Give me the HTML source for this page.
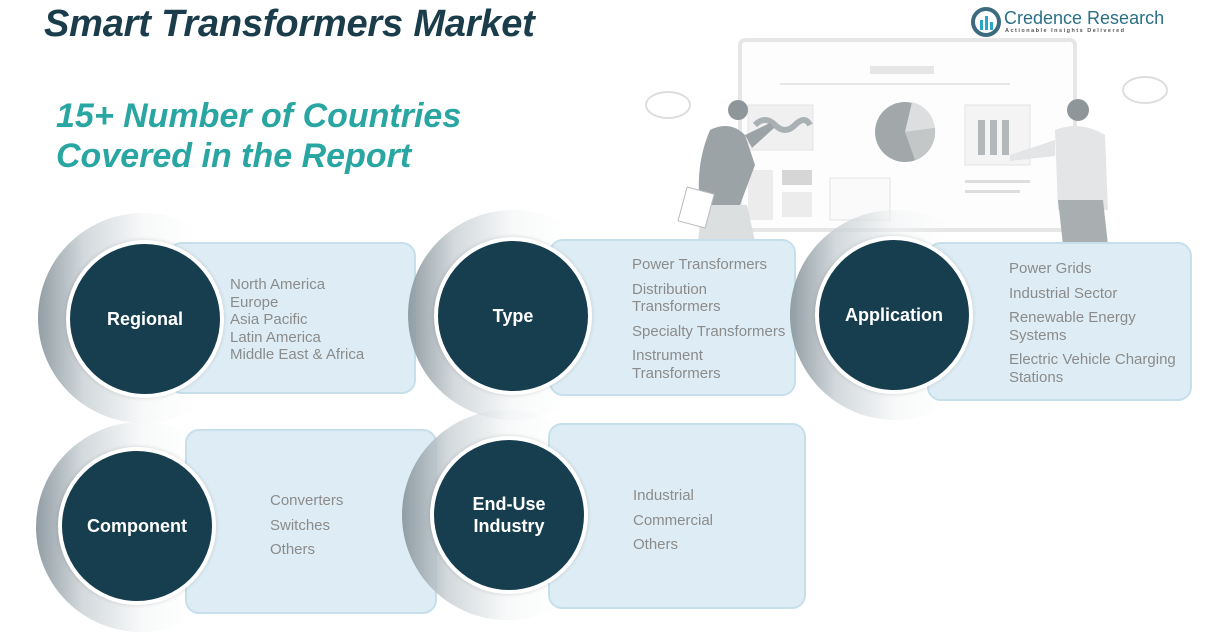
<!DOCTYPE html>
<html><head><meta charset="utf-8"><style>
body{margin:0;width:1211px;height:642px;background:#fff;position:relative;overflow:hidden;font-family:"Liberation Sans",sans-serif}
.a{position:absolute}
.ring{position:absolute;border-radius:50%;background:linear-gradient(90deg,rgba(140,153,160,.95) 0%,rgba(200,207,211,.8) 22%,rgba(240,243,244,.5) 50%,rgba(255,255,255,0) 75%)}
.panel{position:absolute;background:#deedf5;border:2px solid #c6dfeb;border-radius:14px;box-sizing:border-box}
.c{position:absolute;width:150px;height:150px;border-radius:50%;background:#173e4e;border:4px solid #fff;box-sizing:content-box;display:flex;align-items:center;justify-content:center;color:#fff;font-weight:bold;font-size:18px;text-align:center;line-height:22px;box-shadow:0 0 4px rgba(0,0,0,.15)}
.t{position:absolute;color:#8b8b8b;font-size:15px;line-height:17.5px}
</style></head><body>
<div class="a" style="left:44px;top:3px;font-size:38px;font-weight:bold;font-style:italic;color:#1b3d4b;letter-spacing:-0.2px">Smart Transformers Market</div>
<div class="a" style="left:56px;top:96px;font-size:34px;font-weight:bold;font-style:italic;color:#2aa6a2;line-height:40px">15+ Number of Countries<br>Covered in the Report</div>

<svg class="a" style="left:970px;top:6px" width="32" height="32"><circle cx="16" cy="16" r="13" fill="none" stroke="#3b6b7d" stroke-width="4"/><rect x="10" y="14" width="3" height="10" fill="#2aa6c4"/><rect x="15" y="10" width="3" height="14" fill="#2aa6c4"/><rect x="20" y="16" width="3" height="8" fill="#2aa6c4"/></svg>
<div class="a" style="left:1004px;top:8px;font-size:18px;color:#2b6f86">Credence Research</div>
<div class="a" style="left:1005px;top:28px;font-size:5.5px;letter-spacing:1.5px;color:#555;font-weight:bold">Actionable Insights Delivered</div>

<svg class="a" style="left:600px;top:30px" width="611" height="220">
<rect x="140" y="10" width="335" height="190" rx="5" fill="#fdfdfd" stroke="#e6e6e6" stroke-width="4"/>
<rect x="270" y="36" width="64" height="8" fill="#e6e6e6"/>
<rect x="180" y="53" width="230" height="2" fill="#e6e6e6"/>
<rect x="148" y="75" width="65" height="45" fill="#f0f0f0" stroke="#e3e3e3"/>
<path d="M155 95 q10 -10 20 0 t20 0 t15 0" stroke="#a9b1b4" stroke-width="6" fill="none"/>
<circle cx="305" cy="102" r="30" fill="#a2a8aa"/><path d="M305 102 L312 72 A30 30 0 0 1 335 98 Z" fill="#dcdedf"/><path d="M305 102 L335 98 A30 30 0 0 1 315 130 Z" fill="#c3c7c8"/>
<rect x="365" y="75" width="65" height="60" fill="#f4f4f4" stroke="#e3e3e3"/>
<rect x="378" y="90" width="7" height="35" fill="#b3b8ba"/><rect x="390" y="90" width="7" height="35" fill="#b3b8ba"/><rect x="402" y="90" width="7" height="35" fill="#b3b8ba"/>
<rect x="148" y="140" width="25" height="50" fill="#ececec"/><rect x="182" y="140" width="30" height="15" fill="#d6d6d6"/><rect x="182" y="162" width="30" height="25" fill="#ececec"/>
<rect x="230" y="148" width="60" height="42" fill="#fafafa" stroke="#e3e3e3"/>
<rect x="365" y="150" width="65" height="3" fill="#ddd"/><rect x="365" y="160" width="55" height="3" fill="#ddd"/>
<ellipse cx="68" cy="75" rx="22" ry="13" fill="none" stroke="#ddd" stroke-width="2"/>
<ellipse cx="545" cy="60" rx="22" ry="13" fill="none" stroke="#ddd" stroke-width="2"/>
<circle cx="138" cy="80" r="10" fill="#8e9699"/>
<path d="M110 100 q20 -10 35 5 l10 30 l-15 40 l-40 0 q-5 -40 10 -75z" fill="#9ca3a6"/>
<path d="M145 105 l25 -12 l4 5 l-22 20z" fill="#9ca3a6"/>
<path d="M102 175 l45 0 l10 45 l-60 0z" fill="#dcdfe0"/>
<rect x="82" y="160" width="28" height="35" fill="#fff" stroke="#bbb" transform="rotate(15 96 178)"/>
<circle cx="478" cy="80" r="11" fill="#8e9699"/>
<path d="M455 100 q25 -10 50 5 l3 75 l-50 0z" fill="#e3e5e6"/>
<path d="M458 170 l45 0 l5 45 l-45 0z" fill="#a9afb1"/>
<path d="M455 110 l-45 15 l0 6 l45 -5z" fill="#e3e5e6"/>
</svg>

<div class="ring" style="left:38px;top:213px;width:210px;height:210px"></div>
<div class="panel" style="left:168px;top:242px;width:248px;height:152px"></div>
<div class="c" style="left:66px;top:240px">Regional</div>
<div class="t" style="left:230px;top:276px">North America<br>Europe<br>Asia Pacific<br>Latin America<br>Middle East &amp; Africa</div>

<div class="ring" style="left:408px;top:210px;width:210px;height:210px"></div>
<div class="panel" style="left:549px;top:239px;width:247px;height:157px"></div>
<div class="c" style="left:434px;top:237px">Type</div>
<div class="t" style="left:632px;top:256px">Power Transformers<div style="height:7px"></div>Distribution<br>Transformers<div style="height:7px"></div>Specialty Transformers<div style="height:7px"></div>Instrument<br>Transformers</div>

<div class="ring" style="left:790px;top:210px;width:210px;height:210px"></div>
<div class="panel" style="left:927px;top:242px;width:265px;height:159px"></div>
<div class="c" style="left:815px;top:236px">Application</div>
<div class="t" style="left:1009px;top:260px">Power Grids<div style="height:7px"></div>Industrial Sector<div style="height:7px"></div>Renewable Energy<br>Systems<div style="height:7px"></div>Electric Vehicle Charging<br>Stations</div>

<div class="ring" style="left:36px;top:422px;width:210px;height:210px"></div>
<div class="panel" style="left:185px;top:429px;width:252px;height:185px"></div>
<div class="c" style="left:58px;top:447px">Component</div>
<div class="t" style="left:270px;top:489px;line-height:24.5px">Converters<br>Switches<br>Others</div>

<div class="ring" style="left:402px;top:410px;width:210px;height:210px"></div>
<div class="panel" style="left:548px;top:423px;width:258px;height:186px"></div>
<div class="c" style="left:430px;top:436px">End-Use<br>Industry</div>
<div class="t" style="left:633px;top:484px;line-height:24.5px">Industrial<br>Commercial<br>Others</div>
</body></html>
